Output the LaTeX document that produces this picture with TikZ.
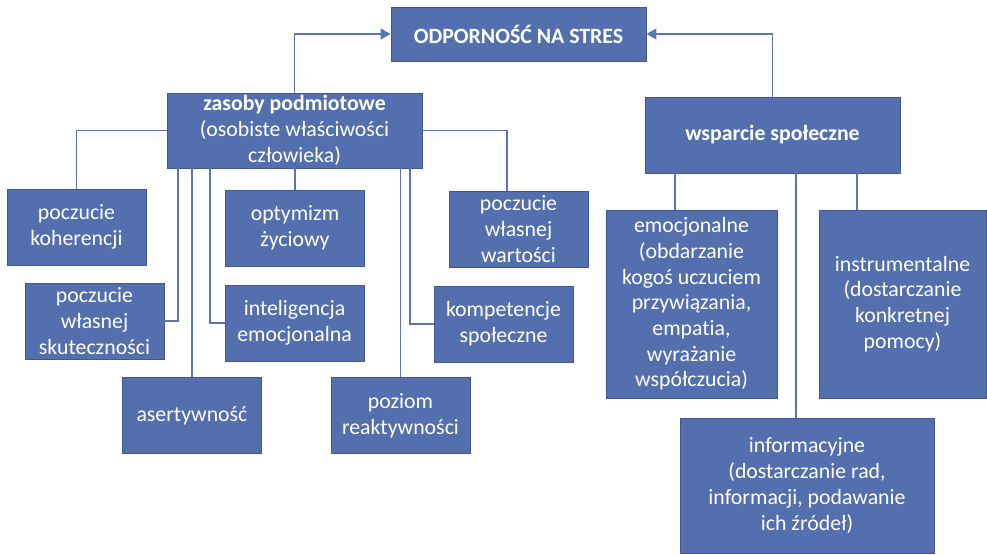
\documentclass[tikz,border=0pt]{standalone}
\usepackage{fontspec}
\setmainfont{Carlito}[Ligatures=NoCommon]
\usepackage{tikz}
\usetikzlibrary{arrows.meta, positioning}
\definecolor{boxblue}{RGB}{84,111,173}
\definecolor{boxedge}{RGB}{66,88,140}
\definecolor{linkblue}{RGB}{90,116,182}

\begin{document}
\begin{tikzpicture}[x=1pt, y=-1pt,
  card/.style={draw=boxedge, fill=boxblue, text=white, line width=0.8pt,
    align=center, inner sep=2pt, font=\fontsize{21.8}{25.7}\selectfont},
  small/.style={card, minimum width=139pt, minimum height=76pt},
  link/.style={draw=linkblue, line width=1.2pt},
  arr/.style={link, -{Triangle[length=10pt, width=11pt]}}]
\useasboundingbox (0,0) rectangle (987,554);

% Main boxes
\node[card, minimum width=255pt, minimum height=54pt] (top) at (518.5,34) {\textbf{ODPORNOŚĆ NA STRES}};
\node[card, minimum width=255pt, minimum height=75pt] (zas) at (294.5,130.5) {\textbf{zasoby podmiotowe}\\(osobiste właściwości\\człowieka)};
\node[card, minimum width=255pt, minimum height=76pt] (wsp) at (772.5,135) {\textbf{wsparcie społeczne}};

% Personal resources
\node[small] (koh) at (76.5,227) {poczucie\\koherencji};
\node[small] (skut) at (94.5,321) {poczucie\\własnej\\skuteczności};
\node[small] (ase) at (192,415.5) {asertywność};
\node[small] (opt) at (295,228) {optymizm\\życiowy};
\node[small] (int) at (294.5,323) {inteligencja\\emocjonalna};
\node[small] (poz) at (400.5,415.5) {poziom\\reaktywności};
\node[small] (komp) at (503.5,324) {kompetencje\\społeczne};
\node[small] (wart) at (518.5,229) {poczucie\\własnej\\wartości};

% Social support
\node[card, minimum width=171pt, minimum height=188pt] (emo) at (691.5,304) {emocjonalne\\(obdarzanie\\kogoś uczuciem\\przywiązania,\\empatia,\\wyrażanie\\współczucia)};
\node[card, minimum width=167pt, minimum height=188pt] (ins) at (902.5,304) {instrumentalne\\(dostarczanie\\konkretnej\\pomocy)};
\node[card, minimum width=254pt, minimum height=135pt] (inf) at (807,485.5) {informacyjne\\(dostarczanie rad,\\informacji, podawanie\\ich źródeł)};

% Arrows to the top
\draw[arr] (zas.north) |- (top.west);
\draw[arr] (wsp.north) |- (top.east);

% Left tree
\draw[link] (zas.west) -| (koh.north);
\draw[link] (zas.east) -| ([xshift=-11.5pt]wart.north);
\draw[link] ([xshift=-116.5pt]zas.south) |- (skut.east);
\draw[link] (zas.south -| ase.north) -- (ase.north);
\draw[link] ([xshift=-84.5pt]zas.south) |- (int.west);
\draw[link] (zas.south -| opt.north) -- (opt.north);
\draw[link] (zas.south -| poz.north) -- (poz.north);
\draw[link] ([xshift=115.5pt]zas.south) |- (komp.west);

% Right tree
\draw[link] ([xshift=-97.5pt]wsp.south) -- ([xshift=-97.5pt]wsp.south |- emo.north);
\draw[link] ([xshift=23.5pt]wsp.south) -- ([xshift=23.5pt]wsp.south |- inf.north);
\draw[link] ([xshift=84.5pt]wsp.south) -- ([xshift=84.5pt]wsp.south |- ins.north);
\end{tikzpicture}
\end{document}
